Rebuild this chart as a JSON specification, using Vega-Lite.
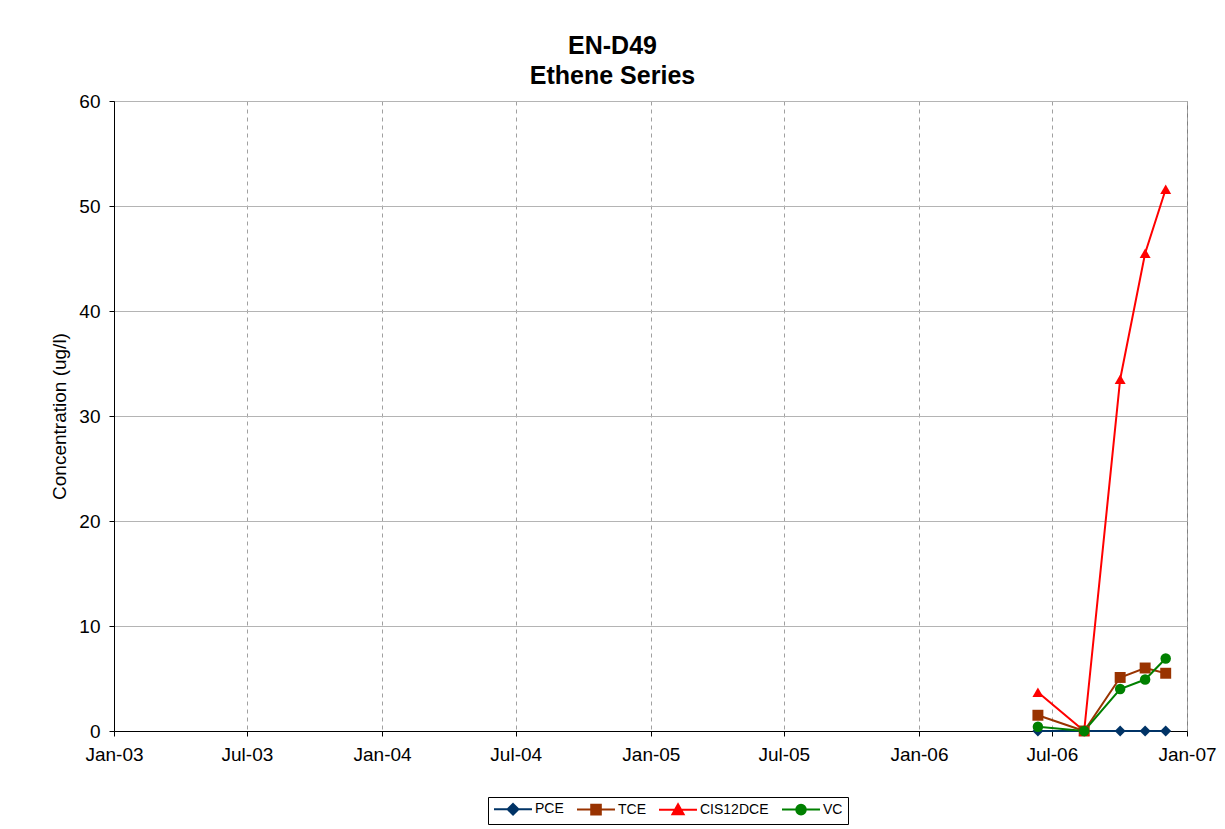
{
  "$schema": "https://vega.github.io/schema/vega-lite/v6.json",
  "width": 1073,
  "height": 630,
  "autosize": {"type": "none"},
  "padding": {"left": 114, "top": 101, "right": 38, "bottom": 98},
  "background": "white",
  "config": {
    "font": "Liberation Sans",
    "view": {"stroke": "#808080", "strokeWidth": 1}
  },
  "title": {
    "text": ["EN-D49", "Ethene Series"],
    "fontSize": 25,
    "fontWeight": "bold",
    "font": "Liberation Sans",
    "color": "black",
    "anchor": "middle",
    "lineHeight": 30,
    "offset": 3,
    "dx": -38
  },
  "data": {
    "values": [
      {"date": "2006-06-12", "series": "PCE", "value": 0},
      {"date": "2006-08-14", "series": "PCE", "value": 0},
      {"date": "2006-10-02", "series": "PCE", "value": 0},
      {"date": "2006-11-05", "series": "PCE", "value": 0},
      {"date": "2006-12-03", "series": "PCE", "value": 0},
      {"date": "2006-06-12", "series": "TCE", "value": 1.5},
      {"date": "2006-08-14", "series": "TCE", "value": 0},
      {"date": "2006-10-02", "series": "TCE", "value": 5.1},
      {"date": "2006-11-05", "series": "TCE", "value": 6.0},
      {"date": "2006-12-03", "series": "TCE", "value": 5.5},
      {"date": "2006-06-12", "series": "CIS12DCE", "value": 3.7},
      {"date": "2006-08-14", "series": "CIS12DCE", "value": 0},
      {"date": "2006-10-02", "series": "CIS12DCE", "value": 33.5},
      {"date": "2006-11-05", "series": "CIS12DCE", "value": 45.5},
      {"date": "2006-12-03", "series": "CIS12DCE", "value": 51.6},
      {"date": "2006-06-12", "series": "VC", "value": 0.4},
      {"date": "2006-08-14", "series": "VC", "value": 0},
      {"date": "2006-10-02", "series": "VC", "value": 4.0},
      {"date": "2006-11-05", "series": "VC", "value": 4.9},
      {"date": "2006-12-03", "series": "VC", "value": 6.9}
    ]
  },
  "encoding": {
    "x": {
      "field": "date",
      "type": "temporal",
      "scale": {"domain": [{"year": 2003, "month": 1, "date": 1}, {"year": 2007, "month": 1, "date": 1}]},
      "axis": {
        "title": null,
        "format": "%b-%y",
        "values": [
          {"year": 2003, "month": 1, "date": 1}, {"year": 2003, "month": 7, "date": 1},
          {"year": 2004, "month": 1, "date": 1}, {"year": 2004, "month": 7, "date": 1},
          {"year": 2005, "month": 1, "date": 1}, {"year": 2005, "month": 7, "date": 1},
          {"year": 2006, "month": 1, "date": 1}, {"year": 2006, "month": 7, "date": 1},
          {"year": 2007, "month": 1, "date": 1}
        ],
        "labelFontSize": 19,
        "labelColor": "black",
        "labelPadding": 9,
        "labelFlush": false,
        "labelOverlap": false,
        "tickSize": 5,
        "tickColor": "black",
        "domainColor": "black",
        "grid": true,
        "gridColor": "#a0a0a0",
        "gridDash": [4, 4],
        "gridWidth": 1
      }
    },
    "y": {
      "field": "value",
      "type": "quantitative",
      "scale": {"domain": [0, 60], "nice": false},
      "axis": {
        "title": "Concentration (ug/l)",
        "titleFontSize": 19,
        "titleFontWeight": "normal",
        "titleColor": "black",
        "titlePadding": 9,
        "values": [0, 10, 20, 30, 40, 50, 60],
        "labelFontSize": 19,
        "labelColor": "black",
        "labelPadding": 9,
        "tickSize": 5,
        "tickColor": "black",
        "domainColor": "black",
        "grid": true,
        "gridColor": "#b4b4b4",
        "gridWidth": 1
      }
    },
    "color": {
      "field": "series",
      "type": "nominal",
      "scale": {
        "domain": ["PCE", "TCE", "CIS12DCE", "VC"],
        "range": ["#003366", "#993300", "#FF0000", "#008000"]
      },
      "legend": {
        "title": null,
        "orient": "none",
        "legendX": 374,
        "legendY": 696,
        "direction": "horizontal",
        "strokeColor": "black",
        "padding": 5,
        "labelFontSize": 14,
        "labelColor": "black",
        "labelOffset": 28,
        "columnPadding": 9,
        "symbolSize": 144,
        "symbolStrokeWidth": 2,
        "encode": {
          "symbols": {
            "update": {
              "shape": {"signal": "datum.value == 'PCE' ? 'M-1,0H5.33M2.17,-0.9L3.07,0L2.17,0.9L1.27,0Z' : datum.value == 'TCE' ? 'M-1,0H5.33M1.37,-0.8H2.97V0.8H1.37Z' : datum.value == 'CIS12DCE' ? 'M-1,0H5.33M2.17,-0.9L3.1,0.75H1.24Z' : 'M-1,0H5.33M1.37,0A0.8,0.8,0,1,0,2.97,0A0.8,0.8,0,1,0,1.37,0Z'"},
              "fill": {"scale": "color", "field": "value"},
              "stroke": {"scale": "color", "field": "value"},
              "strokeWidth": {"value": 2},
              "size": {"value": 144}
            }
          }
        }
      }
    }
  },
  "layer": [
    {
      "mark": {"type": "line", "strokeWidth": 2}
    },
    {
      "transform": [{"filter": "datum.series == 'PCE'"}],
      "mark": {"type": "point", "shape": "diamond", "filled": true, "opacity": 1, "size": 120}
    },
    {
      "transform": [{"filter": "datum.series == 'TCE'"}],
      "mark": {"type": "point", "shape": "square", "filled": true, "opacity": 1, "size": 120}
    },
    {
      "transform": [{"filter": "datum.series == 'CIS12DCE'"}],
      "mark": {"type": "point", "shape": "triangle-up", "filled": true, "opacity": 1, "size": 120}
    },
    {
      "transform": [{"filter": "datum.series == 'VC'"}],
      "mark": {"type": "point", "shape": "circle", "filled": true, "opacity": 1, "size": 110}
    }
  ]
}
